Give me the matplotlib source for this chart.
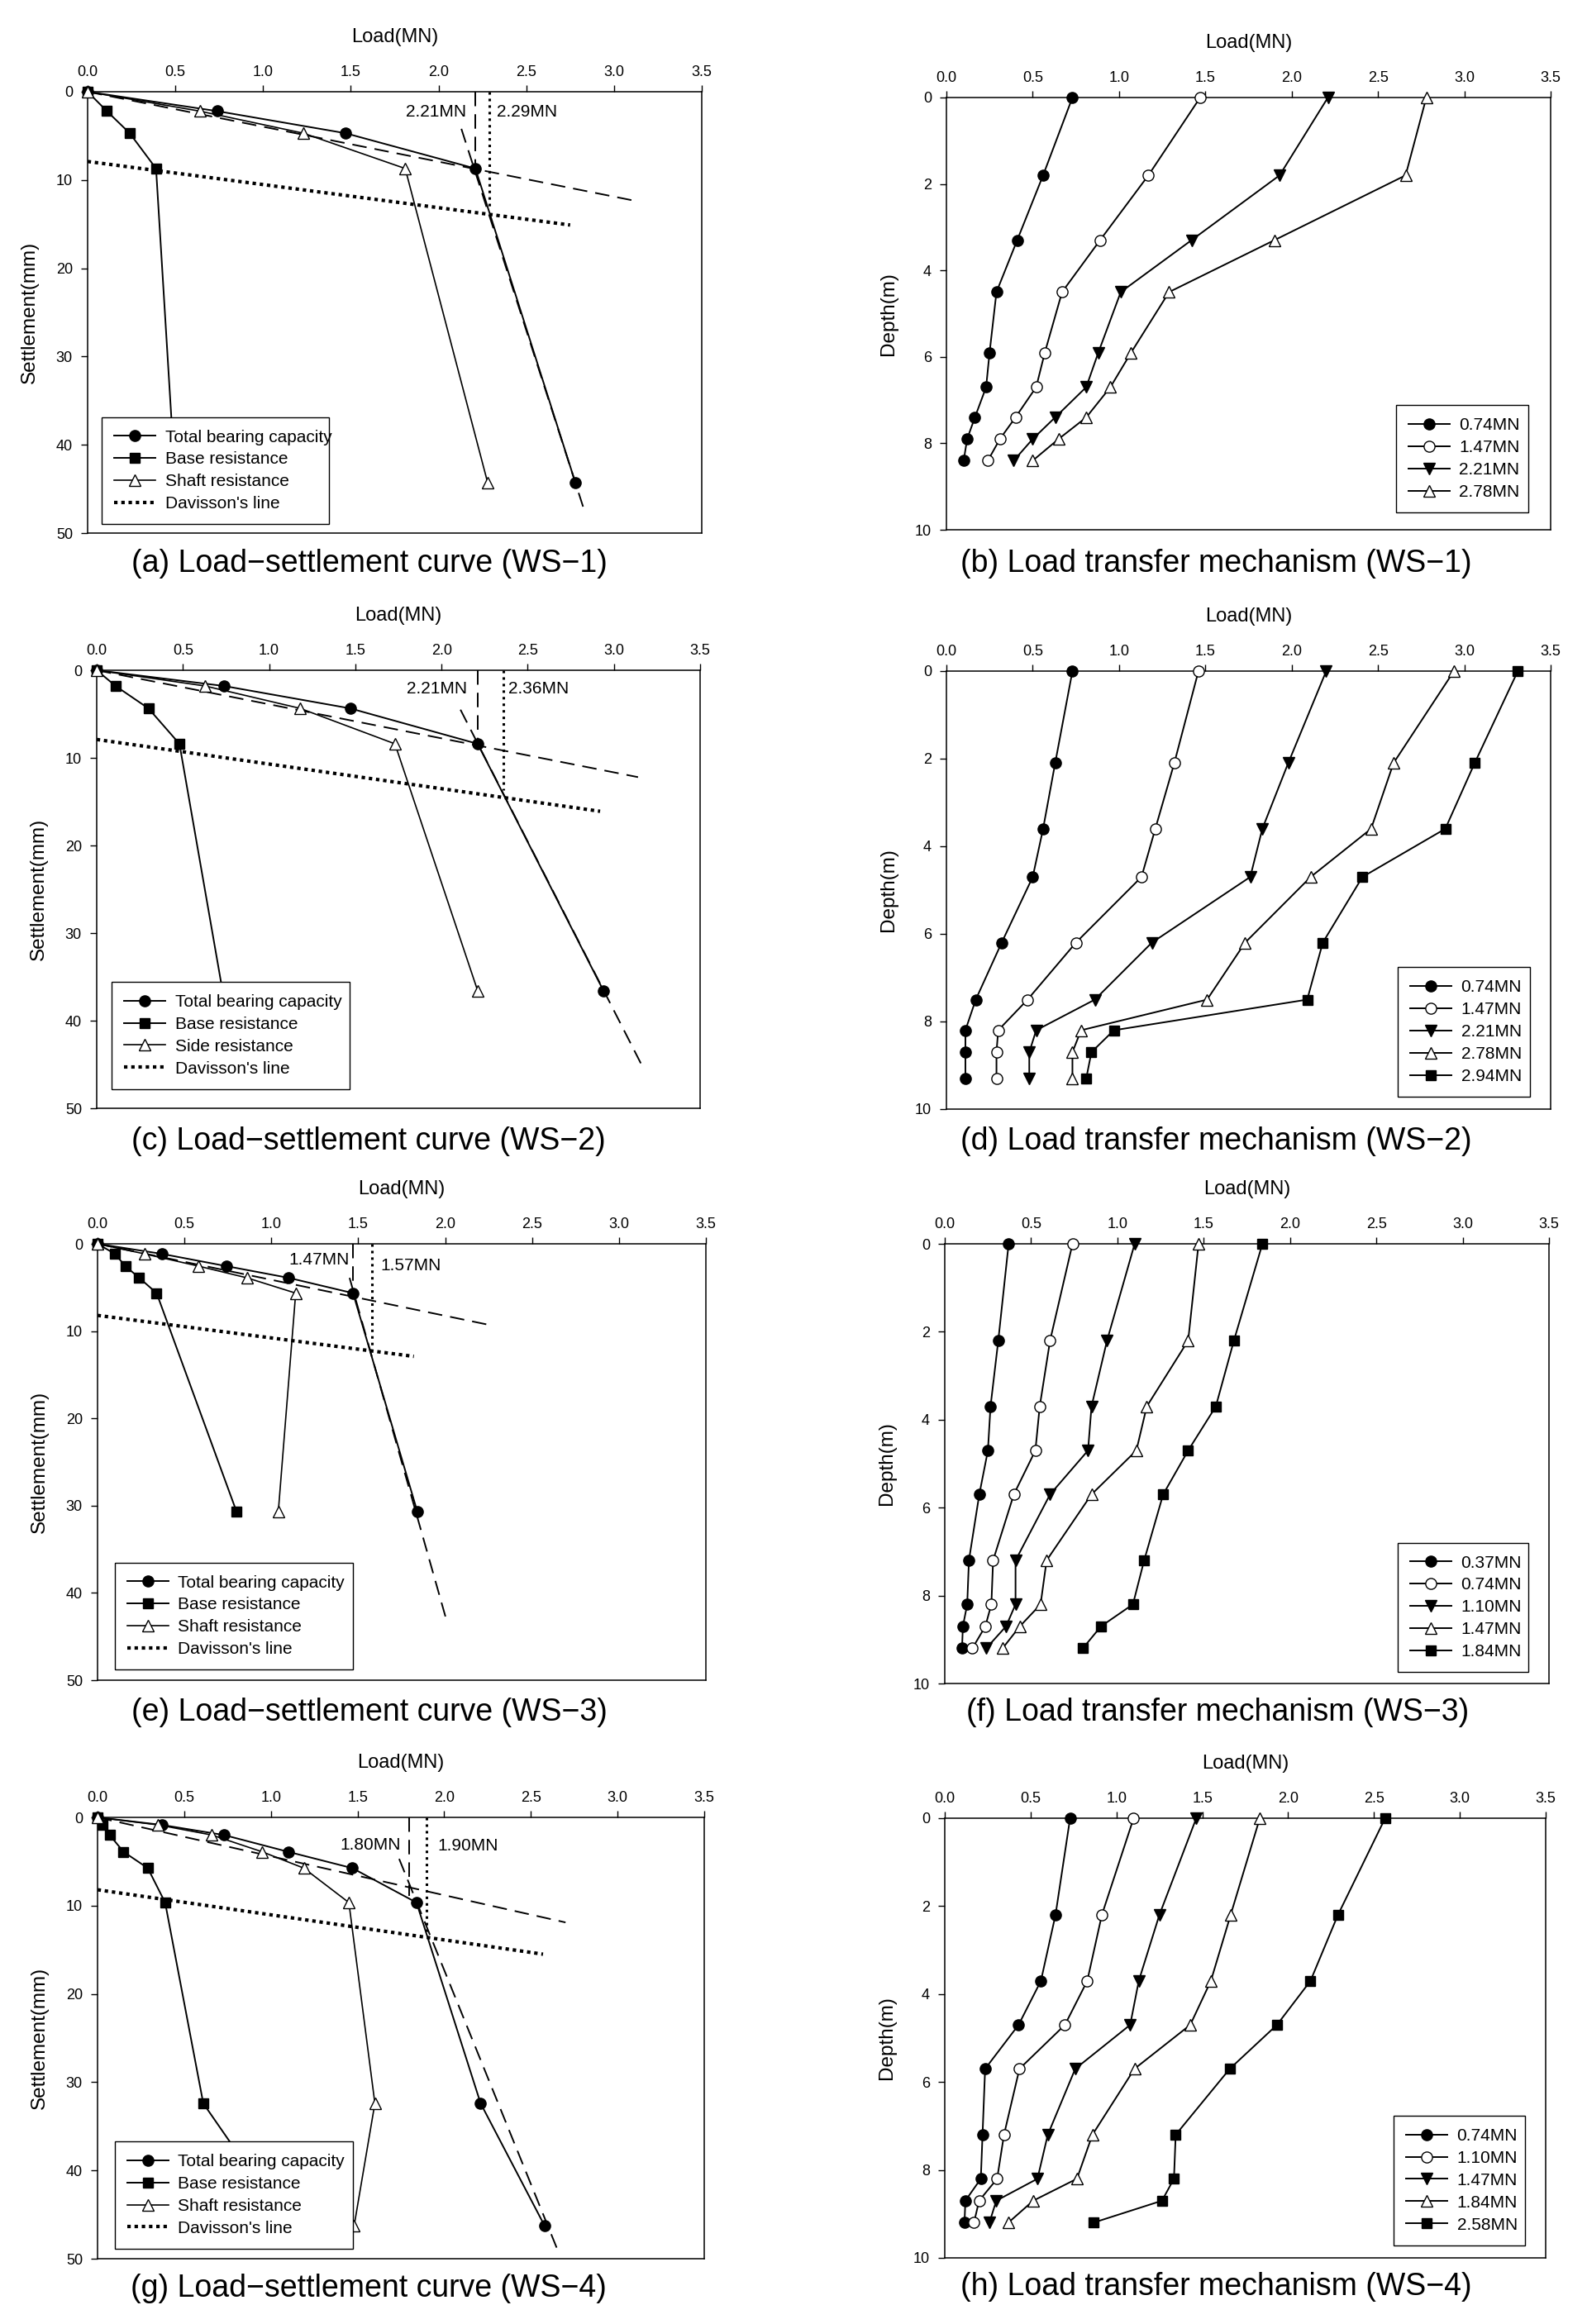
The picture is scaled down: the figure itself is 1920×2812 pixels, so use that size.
import numpy as np
import matplotlib
matplotlib.use('Agg')
import matplotlib.pyplot as plt

plt.rcParams['font.family'] = ['Liberation Sans', 'DejaVu Sans']

# ---------------- load-settlement data (Load MN, settlement mm) ----------------
ws1_settle = [0, 2.2, 4.7, 8.7, 44.3]
ws1_total = [0, 0.74, 1.47, 2.21, 2.78]
ws1_base = [0, 0.11, 0.24, 0.39, 0.50]
ws1_shaft = [0, 0.64, 1.23, 1.81, 2.28]

ws2_settle = [0, 1.8, 4.35, 8.4, 36.6]
ws2_total = [0, 0.74, 1.47, 2.21, 2.94]
ws2_base = [0, 0.11, 0.30, 0.48, 0.73]
ws2_shaft = [0, 0.63, 1.18, 1.73, 2.21]

ws3_settle = [0, 1.15, 2.55, 3.9, 5.65, 30.7]
ws3_total = [0, 0.37, 0.74, 1.10, 1.47, 1.84]
ws3_base = [0, 0.10, 0.16, 0.24, 0.34, 0.80]
ws3_shaft = [0, 0.27, 0.58, 0.86, 1.14, 1.04]

ws4_settle = [0, 0.85, 2.0, 3.9, 5.75, 9.65, 32.4, 46.3]
ws4_total = [0, 0.37, 0.73, 1.10, 1.47, 1.84, 2.21, 2.58]
ws4_base = [0, 0.03, 0.07, 0.15, 0.29, 0.39, 0.61, 1.10]
ws4_shaft = [0, 0.35, 0.66, 0.95, 1.19, 1.45, 1.60, 1.48]

# Davisson lines and tangent lines: ([x0, x1], [y0, y1])
ws1_dav = ([0, 2.75], [7.9, 15.1])
ws2_dav = ([0, 2.92], [7.9, 16.1])
ws3_dav = ([0, 1.82], [8.2, 12.9])
ws4_dav = ([0, 2.57], [8.2, 15.5])

ws1_tan1 = ([0, 3.13], [0, 12.4])
ws1_tan2 = ([2.13, 2.83], [4.2, 47.4])
ws2_tan1 = ([0, 3.14], [0, 12.2])
ws2_tan2 = ([2.11, 3.17], [4.5, 45.4])
ws3_tan1 = ([0, 2.28], [0, 9.4])
ws3_tan2 = ([1.45, 2.01], [3.9, 43.3])
ws4_tan1 = ([0, 2.70], [0, 11.9])
ws4_tan2 = ([1.74, 2.66], [4.7, 49.3])

# ultimate loads: (load, settlement where the marker line stops)
ws1_qu = [(2.21, 8.2), (2.29, 13.0)]
ws2_qu = [(2.21, 8.2), (2.36, 13.7)]
ws3_qu = [(1.47, 5.3), (1.577, 11.7)]
ws4_qu = [(1.80, 8.9), (1.90, 13.2)]
ws1_qu_text = ['2.21MN', '2.29MN']
ws2_qu_text = ['2.21MN', '2.36MN']
ws3_qu_text = ['1.47MN', '1.57MN']
ws4_qu_text = ['1.80MN', '1.90MN']

# ---------------- load transfer data (Load MN vs depth m) ----------------
ws1_depth = [0, 1.8, 3.3, 4.5, 5.9, 6.7, 7.4, 7.9, 8.4]
ws1_tr_names = ['0.74MN', '1.47MN', '2.21MN', '2.78MN']
ws1_tr = [
    [0.73, 0.56, 0.41, 0.29, 0.25, 0.23, 0.165, 0.12, 0.10],
    [1.47, 1.17, 0.89, 0.67, 0.57, 0.52, 0.40, 0.31, 0.24],
    [2.21, 1.93, 1.42, 1.01, 0.88, 0.81, 0.63, 0.50, 0.39],
    [2.78, 2.66, 1.90, 1.29, 1.07, 0.95, 0.81, 0.65, 0.50],
]

ws2_depth = [0, 2.1, 3.6, 4.7, 6.2, 7.5, 8.2, 8.7, 9.3]
ws2_tr_names = ['0.74MN', '1.47MN', '2.21MN', '2.78MN', '2.94MN']
ws2_tr = [
    [0.73, 0.63, 0.56, 0.50, 0.32, 0.17, 0.11, 0.11, 0.11],
    [1.46, 1.32, 1.21, 1.13, 0.75, 0.47, 0.30, 0.29, 0.29],
    [2.20, 1.98, 1.83, 1.76, 1.19, 0.86, 0.52, 0.48, 0.48],
    [2.94, 2.59, 2.46, 2.11, 1.73, 1.51, 0.78, 0.73, 0.73],
    [3.31, 3.06, 2.89, 2.41, 2.18, 2.09, 0.97, 0.84, 0.81],
]

ws3_depth = [0, 2.2, 3.7, 4.7, 5.7, 7.2, 8.2, 8.7, 9.2]
ws3_tr_names = ['0.37MN', '0.74MN', '1.10MN', '1.47MN', '1.84MN']
ws3_tr = [
    [0.37, 0.31, 0.265, 0.25, 0.20, 0.14, 0.13, 0.105, 0.10],
    [0.74, 0.61, 0.55, 0.525, 0.40, 0.28, 0.27, 0.235, 0.16],
    [1.10, 0.94, 0.85, 0.83, 0.61, 0.41, 0.41, 0.355, 0.24],
    [1.47, 1.41, 1.17, 1.11, 0.85, 0.59, 0.555, 0.435, 0.335],
    [1.84, 1.675, 1.57, 1.41, 1.265, 1.155, 1.09, 0.905, 0.80],
]

ws4_depth = [0, 2.2, 3.7, 4.7, 5.7, 7.2, 8.2, 8.7, 9.2]
ws4_tr_names = ['0.74MN', '1.10MN', '1.47MN', '1.84MN', '2.58MN']
ws4_tr = [
    [0.73, 0.645, 0.56, 0.43, 0.235, 0.22, 0.21, 0.12, 0.115],
    [1.10, 0.915, 0.83, 0.70, 0.435, 0.345, 0.305, 0.20, 0.17],
    [1.465, 1.25, 1.13, 1.08, 0.76, 0.60, 0.54, 0.30, 0.26],
    [1.835, 1.665, 1.55, 1.43, 1.105, 0.86, 0.77, 0.515, 0.37],
    [2.565, 2.29, 2.13, 1.935, 1.66, 1.345, 1.335, 1.265, 0.865],
]

captions = ['(a) Load\u2212settlement curve (WS\u22121)', '(b) Load transfer mechanism (WS\u22121)',
            '(c) Load\u2212settlement curve (WS\u22122)', '(d) Load transfer mechanism (WS\u22122)',
            '(e) Load\u2212settlement curve (WS\u22123)', '(f) Load transfer mechanism (WS\u22123)',
            '(g) Load\u2212settlement curve (WS\u22124)', '(h) Load transfer mechanism (WS\u22124)']

W, H = 1920, 2812
fig = plt.figure(figsize=(W / 100, H / 100), dpi=100)


def add_ax(l, t, r, b):
    return fig.add_axes([l / W, 1 - b / H, (r - l) / W, (b - t) / H])


def style_ax(ax, ymax, ylabel, wpx, hpx):
    ax.set_xlim(0, 3.5)
    ax.set_ylim(ymax, 0)
    ax.xaxis.tick_top()
    ax.xaxis.set_label_position('top')
    ax.set_xticks(np.arange(0, 3.51, 0.5))
    ax.set_xticklabels(['%.1f' % v for v in np.arange(0, 3.51, 0.5)])
    ax.tick_params(direction='out', length=6, width=1.0, labelsize=13)
    ax.tick_params(axis='x', pad=5)
    ax.tick_params(axis='y', pad=7)
    for s in ax.spines.values():
        s.set_linewidth(1.1)
    ax.set_xlabel('Load(MN)', fontsize=17)
    ax.xaxis.set_label_coords(0.5, 1 + 60 / hpx)
    ax.set_ylabel(ylabel, fontsize=17.5)
    ax.yaxis.set_label_coords(-59 / wpx, 0.5)


def legend_box(ax, box, **kw):
    leg = ax.legend(loc='lower left', bbox_to_anchor=box, mode='expand', borderaxespad=0,
                    fontsize=15, fancybox=False, framealpha=1, edgecolor='black',
                    handlelength=2.4, handletextpad=0.55, **kw)
    leg.get_frame().set_linewidth(1.0)
    return leg


def settle_panel(ax, settle, total, base, shaft, shaft_name, dav, tan1, tan2, qu, qu_text, txt_pos, box):
    ax.plot(total, settle, '-o', color='black', lw=1.4, ms=9.5, clip_on=False, zorder=5,
            label='Total bearing capacity')
    ax.plot(base, settle, '-s', color='black', lw=1.4, ms=8.5, clip_on=False, zorder=5,
            label='Base resistance')
    ax.plot(shaft, settle, '-^', color='black', mfc='white', lw=1.2, ms=9.5, clip_on=False, zorder=5,
            label=shaft_name)
    ax.plot(dav[0], dav[1], color='black', lw=3, ls=(0, (1, 1.1)), label="Davisson's line")
    ax.plot(tan1[0], tan1[1], color='black', lw=1.4, ls=(0, (9, 5)))
    ax.plot(tan2[0], tan2[1], color='black', lw=1.4, ls=(0, (9, 5)))
    ax.plot([qu[0][0], qu[0][0]], [0, qu[0][1]], color='black', lw=1.4, ls=(0, (9, 5)))
    ax.plot([qu[1][0], qu[1][0]], [0, qu[1][1]], color='black', lw=2.2, ls=(0, (1, 1.6)))
    ax.text(txt_pos[0][0], txt_pos[0][1], qu_text[0], ha='right', va='center', fontsize=15)
    ax.text(txt_pos[1][0], txt_pos[1][1], qu_text[1], ha='left', va='center', fontsize=15)
    leg = legend_box(ax, box, labelspacing=0.38, borderpad=0.72)
    leg.set_zorder(10)


def transfer_panel(ax, depth, loads, names, box):
    styles = [dict(marker='o', mfc='black'), dict(marker='o', mfc='white'),
              dict(marker='v', mfc='black'), dict(marker='^', mfc='white'),
              dict(marker='s', mfc='black')]
    for i, (ld, nm) in enumerate(zip(loads, names)):
        ms = 8.5 if styles[i]['marker'] == 's' else 9.5
        ax.plot(ld, depth, color='black', mec='black', lw=1.4, ms=ms, clip_on=False, zorder=5,
                label=nm, **styles[i])
    leg = legend_box(ax, box, labelspacing=0.38, borderpad=0.72)
    leg.set_zorder(10)


# panel rectangles in pixels (left, top, right, bottom)
rects_left = [(106, 111, 849, 645), (117, 811, 847, 1341), (118, 1505, 854, 2033), (118, 2199, 852, 2733)]
rects_right = [(1145, 118, 1876, 641), (1145, 812, 1876, 1342), (1143, 1505, 1874, 2037), (1143, 2200, 1870, 2732)]

axl = []
for r in rects_left:
    ax = add_ax(*r)
    style_ax(ax, 50, 'Settlement(mm)', r[2] - r[0], r[3] - r[1])
    ax.set_yticks(range(0, 51, 10))
    axl.append(ax)
axr = []
for r in rects_right:
    ax = add_ax(*r)
    style_ax(ax, 10, 'Depth(m)', r[2] - r[0], r[3] - r[1])
    ax.set_yticks(range(0, 11, 2))
    axr.append(ax)

settle_panel(axl[0], ws1_settle, ws1_total, ws1_base, ws1_shaft, 'Shaft resistance', ws1_dav,
             ws1_tan1, ws1_tan2, ws1_qu, ws1_qu_text, [(2.16, 2.25), (2.33, 2.25)],
             (0.023, 0.02, 0.37, 0.25))
settle_panel(axl[1], ws2_settle, ws2_total, ws2_base, ws2_shaft, 'Side resistance', ws2_dav,
             ws2_tan1, ws2_tan2, ws2_qu, ws2_qu_text, [(2.15, 2.1), (2.39, 2.1)],
             (0.025, 0.044, 0.394, 0.25))
settle_panel(axl[2], ws3_settle, ws3_total, ws3_base, ws3_shaft, 'Shaft resistance', ws3_dav,
             ws3_tan1, ws3_tan2, ws3_qu, ws3_qu_text, [(1.45, 1.85), (1.63, 2.5)],
             (0.028, 0.024, 0.392, 0.25))
settle_panel(axl[3], ws4_settle, ws4_total, ws4_base, ws4_shaft, 'Shaft resistance', ws4_dav,
             ws4_tan1, ws4_tan2, ws4_qu, ws4_qu_text, [(1.75, 3.1), (1.96, 3.2)],
             (0.028, 0.023, 0.393, 0.25))

transfer_panel(axr[0], ws1_depth, ws1_tr, ws1_tr_names, (0.744, 0.04, 0.219, 0.25))
transfer_panel(axr[1], ws2_depth, ws2_tr, ws2_tr_names, (0.747, 0.028, 0.219, 0.3))
transfer_panel(axr[2], ws3_depth, ws3_tr, ws3_tr_names, (0.749, 0.026, 0.217, 0.3))
transfer_panel(axr[3], ws4_depth, ws4_tr, ws4_tr_names, (0.747, 0.029, 0.219, 0.3))

cap_pos = [(447, 682), (1471, 682), (446, 1381), (1471, 1381),
           (447, 2072), (1473, 2072), (446, 2769), (1471, 2767)]
for (cx, cy), txt in zip(cap_pos, captions):
    fig.text(cx / W, 1 - cy / H, txt, ha='center', va='center', fontsize=27)

fig.savefig('out.png', dpi=100)
